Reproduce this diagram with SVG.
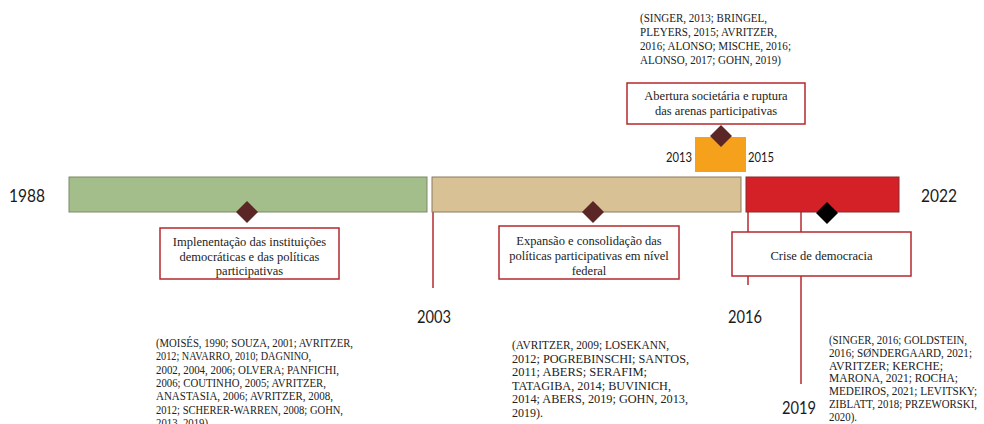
<svg xmlns="http://www.w3.org/2000/svg" width="984" height="424" viewBox="0 0 984 424">
<style>
.yr{font-family:Lato,"Open Sans",sans-serif;font-size:18px;fill:#1a1a1a}
.yrs{font-family:Lato,"Open Sans",sans-serif;font-size:13.5px;fill:#1a1a1a}
.box{fill:#fff;stroke:#b5282e;stroke-width:1.5}
.lbl{font-family:"Liberation Serif","Times New Roman",serif;font-size:12.5px;fill:#222;text-anchor:middle}
.cit{font-family:"Liberation Serif","Times New Roman",serif;font-size:12.5px;fill:#222}
.ln{stroke:#b5282e;stroke-width:1.5;fill:none}
.dm{fill:#5b2626}
</style>
<rect width="984" height="424" fill="#fff"/>
<g id="connectors">
<line class="ln" x1="433" y1="212" x2="433" y2="288"/>
<line class="ln" x1="748" y1="212" x2="748" y2="285"/>
<line class="ln" x1="801" y1="212" x2="801" y2="384"/>
</g>
<g id="bar-1988-2003">
<rect x="69" y="177" width="358" height="35" fill="#a3bd8b" stroke="#7d8a66" stroke-width="1"/>
</g>
<g id="bar-2003-2016">
<rect x="432" y="177" width="309" height="35" fill="#d9c196" stroke="#8a7a5c" stroke-width="1"/>
</g>
<g id="bar-2013-2015">
<rect x="695" y="137" width="51" height="35" fill="#f6a11c"/>
</g>
<g id="bar-2016-2022">
<rect x="746" y="177" width="153" height="35" fill="#d42128" stroke="#8a2a2a" stroke-width="1"/>
</g>
<g id="years">
<text class="yr" x="9" y="202" textLength="36" lengthAdjust="spacingAndGlyphs">1988</text>
<text class="yr" x="921" y="202" textLength="36" lengthAdjust="spacingAndGlyphs">2022</text>
<text class="yr" x="417" y="323" textLength="34" lengthAdjust="spacingAndGlyphs">2003</text>
<text class="yr" x="728" y="323" textLength="34" lengthAdjust="spacingAndGlyphs">2016</text>
<text class="yr" x="782" y="414" textLength="34" lengthAdjust="spacingAndGlyphs">2019</text>
<text class="yrs" x="666" y="162" textLength="26" lengthAdjust="spacingAndGlyphs">2013</text>
<text class="yrs" x="748" y="162" textLength="26" lengthAdjust="spacingAndGlyphs">2015</text>
</g>
<g id="node-implementacao">
<rect class="box" x="160" y="228" width="179" height="51"/>
<text class="lbl" x="249.5" y="246">Implenentação das instituições</text>
<text class="lbl" x="249.5" y="261">democráticas e das políticas</text>
<text class="lbl" x="249.5" y="275">participativas</text>
<path class="dm" d="M247 201 L258 212 L247 223 L236 212 Z"/>
</g>
<g id="node-expansao">
<rect class="box" x="499" y="226" width="180" height="53"/>
<text class="lbl" x="589" y="245">Expansão e consolidação das</text>
<text class="lbl" x="589" y="260">políticas participativas em nível</text>
<text class="lbl" x="589" y="275">federal</text>
<path class="dm" d="M593 201 L604 212 L593 223 L582 212 Z"/>
</g>
<g id="node-abertura">
<rect class="box" x="627" y="83" width="178" height="41"/>
<text class="lbl" x="716" y="100">Abertura societária e ruptura</text>
<text class="lbl" x="716" y="115">das arenas participativas</text>
<path class="dm" d="M721 125 L732 136 L721 147 L710 136 Z"/>
</g>
<g id="node-crise">
<rect class="box" x="732" y="232" width="179" height="44"/>
<text class="lbl" x="821.5" y="260">Crise de democracia</text>
<path fill="#000" d="M827 202 L838 213 L827 224 L816 213 Z"/>
</g>
<g id="cit-top">
<text class="cit" x="640" y="22" textLength="127" lengthAdjust="spacingAndGlyphs">(SINGER, 2013; BRINGEL,</text>
<text class="cit" x="640" y="36" textLength="137" lengthAdjust="spacingAndGlyphs">PLEYERS, 2015; AVRITZER,</text>
<text class="cit" x="640" y="50" textLength="151" lengthAdjust="spacingAndGlyphs">2016; ALONSO; MISCHE, 2016;</text>
<text class="cit" x="640" y="64" textLength="141" lengthAdjust="spacingAndGlyphs">ALONSO, 2017; GOHN, 2019)</text>
</g>
<g id="cit-left">
<text class="cit" x="156" y="347" textLength="197" lengthAdjust="spacingAndGlyphs">(MOISÉS, 1990; SOUZA, 2001; AVRITZER,</text>
<text class="cit" x="156" y="360.3" textLength="155" lengthAdjust="spacingAndGlyphs">2012; NAVARRO, 2010; DAGNINO,</text>
<text class="cit" x="156" y="373.6" textLength="183" lengthAdjust="spacingAndGlyphs">2002, 2004, 2006; OLVERA; PANFICHI,</text>
<text class="cit" x="156" y="386.9" textLength="170" lengthAdjust="spacingAndGlyphs">2006; COUTINHO, 2005; AVRITZER,</text>
<text class="cit" x="156" y="400.2" textLength="177" lengthAdjust="spacingAndGlyphs">ANASTASIA, 2006; AVRITZER, 2008,</text>
<text class="cit" x="156" y="413.5" textLength="187" lengthAdjust="spacingAndGlyphs">2012; SCHERER-WARREN, 2008; GOHN,</text>
<text class="cit" x="156" y="426.8" textLength="52" lengthAdjust="spacingAndGlyphs">2013, 2019)</text>
</g>
<g id="cit-middle">
<text class="cit" x="512" y="349" textLength="157" lengthAdjust="spacingAndGlyphs">(AVRITZER, 2009;  LOSEKANN,</text>
<text class="cit" x="512" y="362.6" textLength="177" lengthAdjust="spacingAndGlyphs">2012; POGREBINSCHI; SANTOS,</text>
<text class="cit" x="512" y="376.2" textLength="135" lengthAdjust="spacingAndGlyphs">2011; ABERS; SERAFIM;</text>
<text class="cit" x="512" y="389.8" textLength="159" lengthAdjust="spacingAndGlyphs">TATAGIBA, 2014; BUVINICH,</text>
<text class="cit" x="512" y="403.4" textLength="176" lengthAdjust="spacingAndGlyphs">2014; ABERS, 2019; GOHN, 2013,</text>
<text class="cit" x="512" y="417" textLength="31" lengthAdjust="spacingAndGlyphs">2019).</text>
</g>
<g id="cit-right">
<text class="cit" x="829" y="344" textLength="138" lengthAdjust="spacingAndGlyphs">(SINGER, 2016; GOLDSTEIN,</text>
<text class="cit" x="829" y="356.8" textLength="143" lengthAdjust="spacingAndGlyphs">2016; SØNDERGAARD, 2021;</text>
<text class="cit" x="829" y="369.6" textLength="114" lengthAdjust="spacingAndGlyphs">AVRITZER;  KERCHE;</text>
<text class="cit" x="829" y="382.4" textLength="129" lengthAdjust="spacingAndGlyphs">MARONA, 2021; ROCHA;</text>
<text class="cit" x="829" y="395.2" textLength="148" lengthAdjust="spacingAndGlyphs">MEDEIROS, 2021; LEVITSKY;</text>
<text class="cit" x="829" y="408" textLength="148" lengthAdjust="spacingAndGlyphs">ZIBLATT, 2018;  PRZEWORSKI,</text>
<text class="cit" x="829" y="420.8" textLength="28" lengthAdjust="spacingAndGlyphs">2020).</text>
</g>
</svg>
